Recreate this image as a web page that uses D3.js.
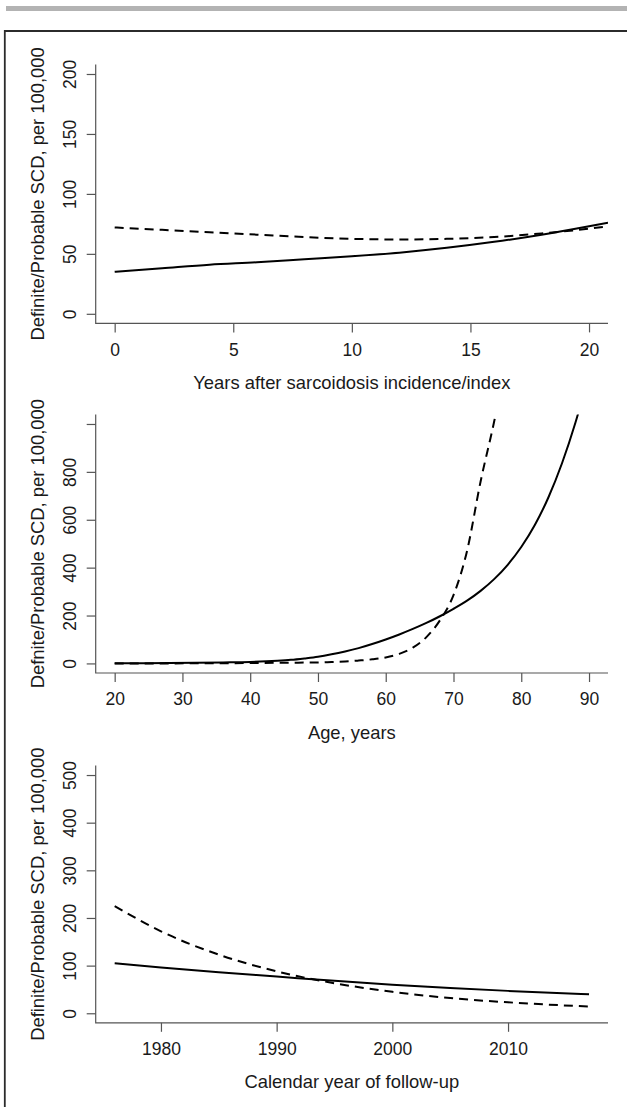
<!DOCTYPE html>
<html>
<head>
<meta charset="utf-8">
<script src="https://cdn.jsdelivr.net/npm/d3@7"></script>
<style>
  html, body { margin: 0; padding: 0; background: #fff; }
  svg { display: block; font-family: "Liberation Sans", Arial, Helvetica, sans-serif; }
</style>
</head>
<body>
<svg id="chart" width="627" height="1107"></svg>
<script>
// ---------- Data ----------
// Panel 1: years after sarcoidosis incidence/index
const years1   = [0, 2, 4, 6, 8, 10, 12, 14, 16, 18, 20, 20.8];
const solid1   = [35, 38, 41, 43, 45.5, 48, 51, 55, 60, 66, 73, 76];
const dashed1  = [72, 70, 68, 66, 64, 62.5, 62, 62.5, 64, 67, 71, 73];
const xTicks1  = [0, 5, 10, 15, 20];
const yTicks1  = [0, 50, 100, 150, 200];
const yLabels1 = ["0", "50", "100", "150", "200"];

// Panel 2: age, years
const ages2    = [20, 24, 28, 32, 36, 40, 44, 46, 48, 50, 52, 54, 56, 58, 60, 62, 64, 66, 68, 70, 72, 74, 76, 78, 80, 82, 84, 86, 88, 90];
const solid2   = [0.5, 1, 1.5, 2.5, 4, 6, 11, 15, 21, 28, 38, 50, 64, 81, 100, 121, 144, 169, 197, 228, 262, 303, 352, 412, 486, 578, 693, 835, 1006, 1210];
const dashed2  = [0, 0, 0, 0.5, 1, 1.5, 2.5, 3, 3.5, 4, 6, 8, 12, 17, 25, 40, 66, 110, 180, 285, 470, 760, 1010, 1300, 1600, 1900, 2200, 2500, 2800, 3100];
const xTicks2  = [20, 30, 40, 50, 60, 70, 80, 90];
const yTicks2  = [0, 200, 400, 600, 800, 1000];
const yLabels2 = ["0", "200", "400", "600", "800", ""];

// Panel 3: calendar year of follow-up
const years3   = [1976, 1980, 1985, 1990, 1995, 2000, 2005, 2010, 2017];
const solid3   = [105, 96, 86, 77, 68, 60, 53, 47, 40];
const dashed3  = [225, 172, 123, 88, 63, 45, 32, 23, 14];
const xTicks3  = [1980, 1990, 2000, 2010];
const yTicks3  = [0, 100, 200, 300, 400, 500];
const yLabels3 = ["0", "100", "200", "300", "400", "500"];

const xTitles = ["Years after sarcoidosis incidence/index", "Age, years", "Calendar year of follow-up"];
const yTitles = ["Definite/Probable SCD, per 100,000", "Defnite/Probable SCD, per 100,000", "Definite/Probable SCD, per 100,000"];
const xLims = [[0, 20], [20, 90], [1976, 2017]];
const yLims = [[0, 200], [0, 1000], [0, 500]];

// ---------- Layout ----------
const svg = d3.select("#chart");
const left = 95.7, right = 608;
const tops = [64.4, 414.4, 765.5];
const bottoms = [323.4, 673, 1022.8];
const axisColor = "#555";
const textColor = "#1a1a1a";
const tickFont = 17.5, titleFont = 18.4;

// Header bar and frame
svg.append("rect").attr("x", 6).attr("y", 6).attr("width", 640).attr("height", 5).attr("fill", "#b3b3b3");
svg.append("path").attr("d", "M4.8,1120 L4.8,31 L640,31")
  .attr("fill", "none").attr("stroke", "#2b2b2b").attr("stroke-width", 1.8);

const panels = [
  { xs: years1, s: solid1, d: dashed1, xt: xTicks1, yt: yTicks1, yl: yLabels1 },
  { xs: ages2,  s: solid2, d: dashed2, xt: xTicks2, yt: yTicks2, yl: yLabels2 },
  { xs: years3, s: solid3, d: dashed3, xt: xTicks3, yt: yTicks3, yl: yLabels3 }
];

panels.forEach((p, i) => {
  const [x0, x1] = xLims[i], [y0, y1] = yLims[i];
  const xr = (x1 - x0) * 0.04, yr = (y1 - y0) * 0.04;
  const x = d3.scaleLinear().domain([x0 - xr, x1 + xr]).range([left, right]);
  const y = d3.scaleLinear().domain([y0 - yr, y1 + yr]).range([bottoms[i], tops[i]]);
  const g = svg.append("g");

  // clip
  const cid = "clip" + i;
  svg.append("clipPath").attr("id", cid).append("rect")
    .attr("x", left).attr("y", tops[i]).attr("width", right - left).attr("height", bottoms[i] - tops[i]);

  // curves
  const line = d3.line().x(d => x(d[0])).y(d => y(d[1])).curve(d3.curveMonotoneX);
  const cg = g.append("g").attr("clip-path", `url(#${cid})`);
  cg.append("path").datum(p.xs.map((v, k) => [v, p.s[k]]))
    .attr("d", line).attr("fill", "none").attr("stroke", "#000").attr("stroke-width", 2);
  cg.append("path").datum(p.xs.map((v, k) => [v, p.d[k]]))
    .attr("d", line).attr("fill", "none").attr("stroke", "#000").attr("stroke-width", 2)
    .attr("stroke-dasharray", "9,6");

  // L-box
  g.append("path").attr("d", `M${left},${tops[i]} L${left},${bottoms[i]} L${right},${bottoms[i]}`)
    .attr("fill", "none").attr("stroke", axisColor).attr("stroke-width", 1.2);

  // x axis
  const xa = d3.axisBottom(x).tickValues(p.xt).tickSize(9).tickPadding(11).tickFormat(d3.format("d"));
  const xg = g.append("g").attr("transform", `translate(0,${bottoms[i]})`).call(xa);
  xg.attr("font-size", tickFont).attr("font-family", "Liberation Sans, Arial, sans-serif");
  xg.select(".domain").remove();
  xg.selectAll(".tick line").attr("stroke", axisColor).attr("stroke-width", 1.2);
  xg.selectAll(".tick text").attr("fill", textColor).attr("font-size", tickFont)
    .attr("dy", "0.71em");

  // y axis
  const ya = d3.axisLeft(y).tickValues(p.yt).tickSize(9).tickFormat((d, k) => p.yl[k]);
  const yg = g.append("g").attr("transform", `translate(${left},0)`).call(ya);
  yg.attr("font-size", tickFont).attr("font-family", "Liberation Sans, Arial, sans-serif");
  yg.select(".domain").remove();
  yg.selectAll(".tick line").attr("stroke", axisColor).attr("stroke-width", 1.2);
  yg.selectAll(".tick text").attr("fill", textColor).attr("font-size", tickFont)
    .attr("x", 0).attr("dy", 0)
    .attr("text-anchor", "middle")
    .attr("transform", `translate(${69.5 - left},0) rotate(-90) translate(0,6.3)`);

  // titles
  g.append("text").attr("x", (left + right) / 2).attr("y", bottoms[i] + 59 + 6.5)
    .attr("text-anchor", "middle").attr("font-size", titleFont).attr("fill", textColor)
    .text(xTitles[i]);
  const cy = (tops[i] + bottoms[i]) / 2;
  g.append("text").attr("transform", `translate(38,${cy}) rotate(-90)`)
    .attr("dy", "0.35em").attr("text-anchor", "middle").attr("font-size", titleFont).attr("fill", textColor)
    .text(yTitles[i]);
});
</script>
</body>
</html>
